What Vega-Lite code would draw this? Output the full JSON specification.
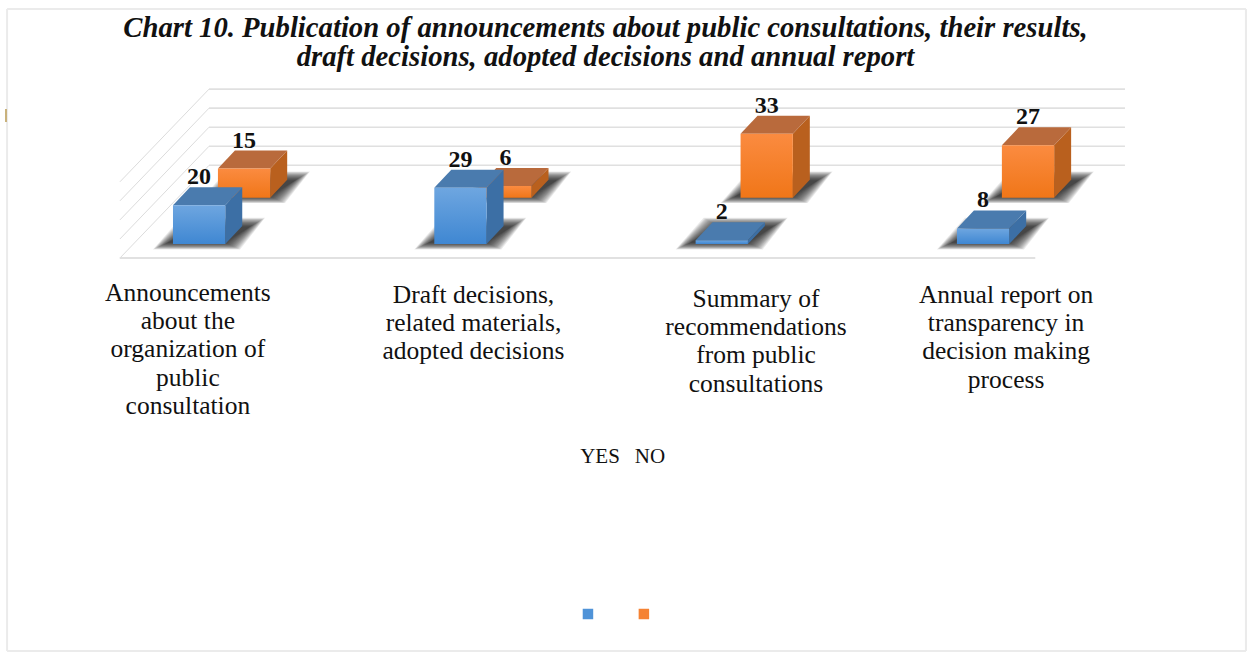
{
  "$schema": "https://vega.github.io/schema/vega-lite/v6.json",
  "width": 1247,
  "height": 653,
  "padding": 0,
  "background": "white",
  "title": {
    "text": ["Chart 10. Publication of announcements about public consultations, their results,", "draft decisions, adopted decisions and annual report"],
    "font": "Liberation Serif",
    "fontSize": 28.7,
    "fontStyle": "italic",
    "fontWeight": "bold",
    "lineHeight": 29,
    "color": "#111111",
    "anchor": "middle",
    "dx": -18,
    "offset": -72
  },
  "config": {"view": {"stroke": null}, "axis": {"disable": true}},
  "datasets": {
    "answers": [
      {"category": "Announcements|about the|organization of|public|consultation", "idx": 0, "series": "YES", "value": 20},
      {"category": "Announcements|about the|organization of|public|consultation", "idx": 0, "series": "NO", "value": 15},
      {"category": "Draft decisions,|related materials,|adopted decisions", "idx": 1, "series": "YES", "value": 29},
      {"category": "Draft decisions,|related materials,|adopted decisions", "idx": 1, "series": "NO", "value": 6},
      {"category": "Summary of|recommendations|from public|consultations", "idx": 2, "series": "YES", "value": 2},
      {"category": "Summary of|recommendations|from public|consultations", "idx": 2, "series": "NO", "value": 33},
      {"category": "Annual report on|transparency in|decision making|process", "idx": 3, "series": "YES", "value": 8},
      {"category": "Annual report on|transparency in|decision making|process", "idx": 3, "series": "NO", "value": 27}
    ],
    "levels": [{"level": 0}, {"level": 10}, {"level": 20}, {"level": 30}, {"level": 40}],
    "frame": [
      {"side": "left", "a": -0.635, "b": -0.635, "c": 121.1, "d": -209.8},
      {"side": "right", "a": 4.106, "b": 4.106, "c": 121.1, "d": -209.8},
      {"side": "top", "a": -0.635, "b": 4.106, "c": 121.1, "d": 121.1},
      {"side": "bottom", "a": -0.635, "b": 4.106, "c": -209.8, "d": -209.8}
    ],
    "legend": [{"series": "YES", "slot": 0}, {"series": "NO", "slot": 1}]
  },
  "data": {"name": "answers"},
  "transform": [
    {"calculate": "datum.idx + (datum.series === 'NO' ? 0.172 : 0)", "as": "x0"},
    {"calculate": "datum.x0 + 0.2", "as": "x1"},
    {"calculate": "datum.series === 'NO' ? 23.87 : 0", "as": "base"},
    {"calculate": "datum.base + datum.value", "as": "topv"}
  ],
  "layer": [
    {
      "data": {"name": "frame"},
      "transform": [],
      "mark": {"type": "rule", "color": "#ebebeb", "strokeWidth": 2},
      "encoding": {
        "x": {"field": "a", "type": "quantitative", "scale": {"domain": [-0.662, 4.11], "nice": false, "zero": false}},
        "x2": {"field": "b"},
        "y": {"field": "c", "type": "quantitative", "scale": {"domain": [-210.8, 125.77], "nice": false, "zero": false}},
        "y2": {"field": "d"}
      }
    },
    {
      "mark": {"type": "rule", "color": "#c9b27c", "strokeWidth": 1.5},
      "encoding": {
        "x": {"datum": -0.639, "type": "quantitative"},
        "y": {"datum": 69.6, "type": "quantitative"},
        "y2": {"datum": 62.9}
      }
    },
    {
      "data": {"name": "levels"},
      "transform": [
        {"calculate": "40.57 + datum.level * 0.982", "as": "yBack"}
      ],
      "mark": {"type": "rule", "color": "#e0e0e0", "strokeWidth": 1.6},
      "encoding": {
        "x": {"datum": 0.138, "type": "quantitative"},
        "x2": {"datum": 3.643},
        "y": {"field": "yBack", "type": "quantitative"}
      }
    },
    {
      "data": {"name": "levels"},
      "transform": [
        {"calculate": "40.57 + datum.level * 0.982", "as": "yBack"},
        {"calculate": "-7.22 + datum.level * 0.982", "as": "yFront"}
      ],
      "mark": {"type": "rule", "color": "#dcdcdc", "strokeWidth": 1},
      "encoding": {
        "x": {"datum": 0.138, "type": "quantitative"},
        "x2": {"datum": -0.203},
        "y": {"field": "yBack", "type": "quantitative"},
        "y2": {"field": "yFront"}
      }
    },
    {
      "mark": {"type": "rule", "color": "#e0e0e0", "strokeWidth": 1.6},
      "encoding": {
        "x": {"datum": -0.203, "type": "quantitative"},
        "x2": {"datum": 3.299},
        "y": {"datum": -7.22, "type": "quantitative"}
      }
    },
    {
      "transform": [
        {"calculate": "[12, 11, 10, 9, 8, 7, 6, 5, 4, 3, 2, 1, 0, -1, -2, -3]", "as": "spread"},
        {"flatten": ["spread"]},
        {"calculate": "[0, 1, 2, 3]", "as": "k"},
        {"flatten": ["k"]},
        {"calculate": "datum.x0 + ([-8 - datum.spread, 20 - datum.spread, 55 + datum.spread, 80 + datum.spread][datum.k]) / 261.3", "as": "sx"},
        {"calculate": "datum.base + (0 - 0.45 * datum.spread) / 1.94", "as": "sBottom"},
        {"calculate": "datum.base + (19 + 0.6 * datum.spread) / 1.94", "as": "sTop"},
        {"calculate": "datum.k === 0 ? datum.sBottom : datum.sTop", "as": "sy"},
        {"calculate": "datum.k === 3 ? datum.sTop : datum.sBottom", "as": "sy2"},
        {"calculate": "datum.idx + datum.series + datum.spread", "as": "shadowKey"}
      ],
      "mark": {"type": "area", "color": "#111111", "opacity": 0.09},
      "encoding": {
        "x": {"field": "sx", "type": "quantitative"},
        "y": {"field": "sy", "type": "quantitative"},
        "y2": {"field": "sy2"},
        "detail": {"field": "shadowKey"}
      }
    },
    {
      "transform": [{"filter": "datum.series === 'NO'"}],
      "layer": [
        {
          "transform": [
            {"calculate": "[0, 1]", "as": "k"},
            {"flatten": ["k"]},
            {"calculate": "datum.x1 + datum.k * 0.065", "as": "fx"},
            {"calculate": "datum.topv + datum.k * 9.28", "as": "fy"},
            {"calculate": "datum.base + datum.k * 9.28", "as": "fy2"}
          ],
          "mark": {"type": "area", "color": "#b9601e"},
          "encoding": {
            "x": {"field": "fx", "type": "quantitative"},
            "y": {"field": "fy", "type": "quantitative"},
            "y2": {"field": "fy2"},
            "detail": {"field": "idx"}
          }
        },
        {
          "transform": [
            {"calculate": "[0, 1, 2, 3]", "as": "k"},
            {"flatten": ["k"]},
            {"calculate": "[datum.x0, datum.x0 + 0.065, datum.x1, datum.x1 + 0.065][datum.k]", "as": "fx"},
            {"calculate": "datum.k === 0 ? datum.topv : datum.topv + 9.28", "as": "fy"},
            {"calculate": "datum.k === 3 ? datum.topv + 9.28 : datum.topv", "as": "fy2"}
          ],
          "mark": {"type": "area", "color": "#b96a3c"},
          "encoding": {
            "x": {"field": "fx", "type": "quantitative"},
            "y": {"field": "fy", "type": "quantitative"},
            "y2": {"field": "fy2"},
            "detail": {"field": "idx"}
          }
        },
        {
          "mark": {
            "type": "rect",
            "color": {
              "gradient": "linear", "x1": 0, "y1": 0, "x2": 0, "y2": 1,
              "stops": [{"offset": 0, "color": "#fb8b40"}, {"offset": 1, "color": "#f07618"}]
            }
          },
          "encoding": {
            "x": {"field": "x0", "type": "quantitative"},
            "x2": {"field": "x1"},
            "y": {"field": "topv", "type": "quantitative"},
            "y2": {"field": "base"}
          }
        }
      ]
    },
    {
      "transform": [{"filter": "datum.series === 'YES'"}],
      "layer": [
        {
          "transform": [
            {"calculate": "[0, 1]", "as": "k"},
            {"flatten": ["k"]},
            {"calculate": "datum.x1 + datum.k * 0.065", "as": "fx"},
            {"calculate": "datum.topv + datum.k * 9.28", "as": "fy"},
            {"calculate": "datum.base + datum.k * 9.28", "as": "fy2"}
          ],
          "mark": {"type": "area", "color": "#3c6fa5"},
          "encoding": {
            "x": {"field": "fx", "type": "quantitative"},
            "y": {"field": "fy", "type": "quantitative"},
            "y2": {"field": "fy2"},
            "detail": {"field": "idx"}
          }
        },
        {
          "transform": [
            {"calculate": "[0, 1, 2, 3]", "as": "k"},
            {"flatten": ["k"]},
            {"calculate": "[datum.x0, datum.x0 + 0.065, datum.x1, datum.x1 + 0.065][datum.k]", "as": "fx"},
            {"calculate": "datum.k === 0 ? datum.topv : datum.topv + 9.28", "as": "fy"},
            {"calculate": "datum.k === 3 ? datum.topv + 9.28 : datum.topv", "as": "fy2"}
          ],
          "mark": {"type": "area", "color": "#4a7bae"},
          "encoding": {
            "x": {"field": "fx", "type": "quantitative"},
            "y": {"field": "fy", "type": "quantitative"},
            "y2": {"field": "fy2"},
            "detail": {"field": "idx"}
          }
        },
        {
          "mark": {
            "type": "rect",
            "color": {
              "gradient": "linear", "x1": 0, "y1": 0, "x2": 0, "y2": 1,
              "stops": [{"offset": 0, "color": "#6ea6e0"}, {"offset": 1, "color": "#3f87d2"}]
            }
          },
          "encoding": {
            "x": {"field": "x0", "type": "quantitative"},
            "x2": {"field": "x1"},
            "y": {"field": "topv", "type": "quantitative"},
            "y2": {"field": "base"}
          }
        }
      ]
    },
    {
      "transform": [
        {"calculate": "datum.x0 + 0.1", "as": "labelX"},
        {"calculate": "datum.topv + 9.28 + 5.2", "as": "labelY"}
      ],
      "mark": {"type": "text", "font": "Liberation Serif", "fontWeight": "bold", "fontSize": 24, "color": "#111111", "baseline": "middle"},
      "encoding": {
        "x": {"field": "labelX", "type": "quantitative"},
        "y": {"field": "labelY", "type": "quantitative"},
        "text": {"field": "value", "type": "quantitative"}
      }
    },
    {
      "transform": [
        {"filter": "datum.series === 'YES'"},
        {"calculate": "[0.057, 1.15, 2.231, 3.188][datum.idx]", "as": "labelX"},
        {"calculate": "[-25.26, -26.3, -28.35, -26.3][datum.idx]", "as": "labelY"}
      ],
      "mark": {"type": "text", "font": "Liberation Serif", "fontSize": 25.5, "lineHeight": 28.2, "color": "#111111", "baseline": "middle", "lineBreak": "|"},
      "encoding": {
        "x": {"field": "labelX", "type": "quantitative"},
        "y": {"field": "labelY", "type": "quantitative"},
        "text": {"field": "category", "type": "nominal"}
      }
    },
    {
      "data": {"name": "legend"},
      "transform": [
        {"calculate": "1.634 + datum.slot * 0.191", "as": "legendX"},
        {"calculate": "-109.8", "as": "legendY"}
      ],
      "mark": {"type": "text", "font": "Liberation Serif", "fontSize": 21, "color": "#111111", "baseline": "middle"},
      "encoding": {
        "x": {"field": "legendX", "type": "quantitative"},
        "y": {"field": "legendY", "type": "quantitative"},
        "text": {"field": "series", "type": "nominal"}
      }
    },
    {
      "data": {"name": "legend"},
      "transform": [
        {"calculate": "1.588 + datum.slot * 0.214", "as": "legendX"},
        {"calculate": "-190.7", "as": "legendY"}
      ],
      "mark": {"type": "point", "shape": "square", "filled": true, "size": 110, "opacity": 1},
      "encoding": {
        "x": {"field": "legendX", "type": "quantitative"},
        "y": {"field": "legendY", "type": "quantitative"},
        "color": {"field": "series", "type": "nominal", "legend": null, "scale": {"domain": ["YES", "NO"], "range": ["#4f93d8", "#f58233"]}}
      }
    }
  ]
}
